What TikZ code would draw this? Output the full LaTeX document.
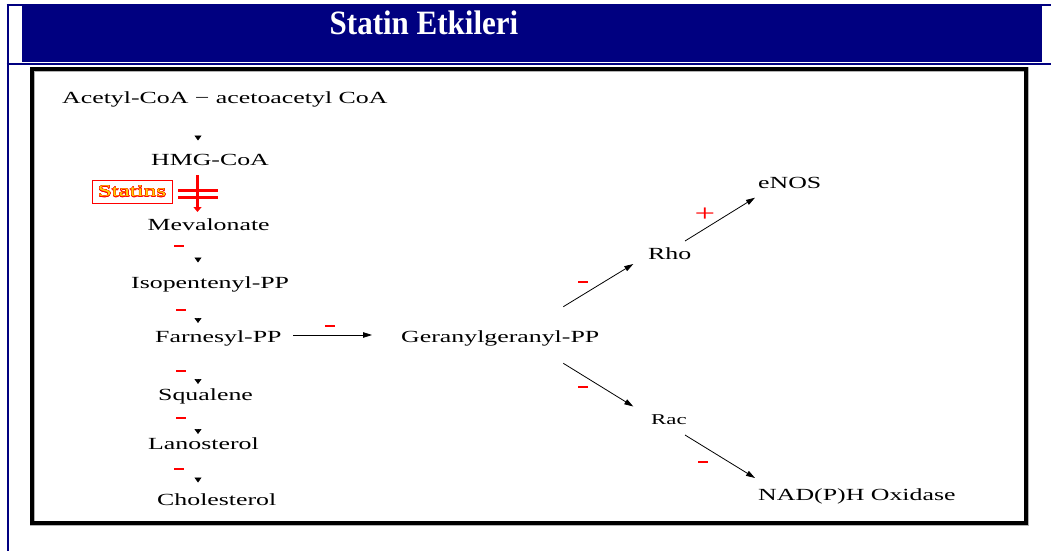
\documentclass[tikz,border=0pt]{standalone}
\usepackage{fontspec}
\setmainfont{Liberation Serif}
\newfontfamily\bodyfont[FakeStretch=1.52]{Liberation Serif}
\usepackage[copies]{contour}
\contourlength{0.35pt}
\usetikzlibrary{arrows.meta}
\definecolor{navy}{RGB}{0,0,128}
\begin{document}
\begin{tikzpicture}[x=1pt,y=-1pt,
  lbl/.style={inner sep=0pt, anchor=base west, font=\bodyfont\fontsize{17}{20}\selectfont},
  small/.style={inner sep=0pt, anchor=base west, font=\bodyfont\fontsize{15}{17}\selectfont},
  titletext/.style={inner sep=0pt, anchor=base, text=white, font=\fontsize{31}{36}\selectfont\bfseries},
  conn/.style={draw=black, line width=0.8pt, -{Triangle[length=9pt,width=5.5pt]}},
  headonly/.style={draw=black, line width=0.5pt, -{Triangle[length=5pt,width=7pt]}},
  blockarrow/.style={draw=red, line width=3.5pt, -{Triangle[length=5pt,width=8pt]}},
  blockbar/.style={draw=red, line width=3pt},
  negmark/.style={fill=red, inner sep=0pt, minimum width=10pt, minimum height=2pt},
  posmark/.style={inner sep=0pt, text=red, font=\bodyfont\fontsize{24}{28}\selectfont},
]
\useasboundingbox (0,0) rectangle (1051,551);
\fill[white] (0,0) rectangle (1051,551);

% slide header
\fill[navy] (22,5) rectangle (1042,62);
\draw[navy, line width=2pt] (6.7,5) -- (1051,5);
\draw[navy, line width=2pt] (7.7,4) -- (7.7,551);
\draw[navy, line width=2pt] (6.7,63.5) -- (1051,63.5);
\node[titletext, yscale=1.1] (title) at (424,35) {Statin Etkileri};

% diagram frame
\draw[black!30, line width=5pt] (32,69) rectangle (1026,523);
\draw[black, line width=3.2pt] (32,69) rectangle (1026,523);

% mevalonate pathway
\node[lbl] (acetyl) at (62,103) {Acetyl-CoA − acetoacetyl CoA};
\node[lbl] (hmg) at (151,165.5) {HMG-CoA};
\node[lbl] (meva) at (147.5,230) {Mevalonate};
\node[lbl] (ipp) at (131,288) {Isopentenyl-PP};
\node[lbl] (fpp) at (155,342.5) {Farnesyl-PP};
\node[lbl] (squa) at (158,400) {Squalene};
\node[lbl] (lano) at (148,449) {Lanosterol};
\node[lbl] (chol) at (157,505) {Cholesterol};

% isoprenoid branch
\node[lbl] (ggpp) at (401,342.5) {Geranylgeranyl-PP};
\node[lbl] (rho) at (648,259) {Rho};
\node[lbl] (enos) at (758,188) {eNOS};
\node[small] (rac) at (651,424) {Rac};
\node[lbl] (nadph) at (758,500) {NAD(P)H Oxidase};

% step heads along the main pathway
\coordinate (h1) at (198,140.5);
\coordinate (h2) at (198,262.5);
\coordinate (h3) at (198,323);
\coordinate (h4) at (198,384);
\coordinate (h5) at (198,434);
\coordinate (h6) at (198,482.5);
\draw[headonly] (h1) ++(0,-5) -- (h1);
\draw[headonly] (h2) ++(0,-5) -- (h2);
\draw[headonly] (h3) ++(0,-5) -- (h3);
\draw[headonly] (h4) ++(0,-5) -- (h4);
\draw[headonly] (h5) ++(0,-5) -- (h5);
\draw[headonly] (h6) ++(0,-5) -- (h6);

% statin block of HMG-CoA reductase
\node[draw=red, line width=0.8pt, inner sep=0pt, minimum width=80pt, minimum height=23pt,
  font=\bodyfont\fontsize{16.5}{19}\selectfont] (statins) at (132,191.5)
  {\color{yellow!70!orange}\contour{red}{Statins}};
\coordinate (sb1) at (197.5,175);
\coordinate (sb2) at (197.5,212);
\draw[blockarrow] (sb1) -- (sb2);
\coordinate (bl1) at (178,190);
\coordinate (br1) at (217.5,190);
\coordinate (bl2) at (178,197.5);
\coordinate (br2) at (217.5,197.5);
\draw[blockbar] (bl1) -- (br1);
\draw[blockbar] (bl2) -- (br2);

% branch connectors
\coordinate (f1) at (293,335);
\coordinate (f2) at (372,335);
\draw[conn] (f1) -- (f2);
\coordinate (g1) at (563.3,306.7);
\coordinate (g2) at (633.3,264);
\draw[conn] (g1) -- (g2);
\coordinate (r1) at (685,241);
\coordinate (r2) at (755,197.7);
\draw[conn] (r1) -- (r2);
\coordinate (g3) at (563.3,363.3);
\coordinate (g4) at (633.3,406.5);
\draw[conn] (g3) -- (g4);
\coordinate (c1) at (685,435);
\coordinate (c2) at (755,478);
\draw[conn] (c1) -- (c2);

% effect signs
\node[negmark] (m1) at (179,246) {};
\node[negmark] (m2) at (181,310) {};
\node[negmark] (m3) at (181,370.7) {};
\node[negmark] (m4) at (180.7,418) {};
\node[negmark] (m5) at (179,469) {};
\node[negmark] (m6) at (330,326) {};
\node[negmark] (m7) at (583,282.3) {};
\node[negmark] (m8) at (583,386.7) {};
\node[negmark] (m9) at (702.5,462) {};
\node[posmark] (p1) at (705,215) {+};
\end{tikzpicture}
\end{document}
